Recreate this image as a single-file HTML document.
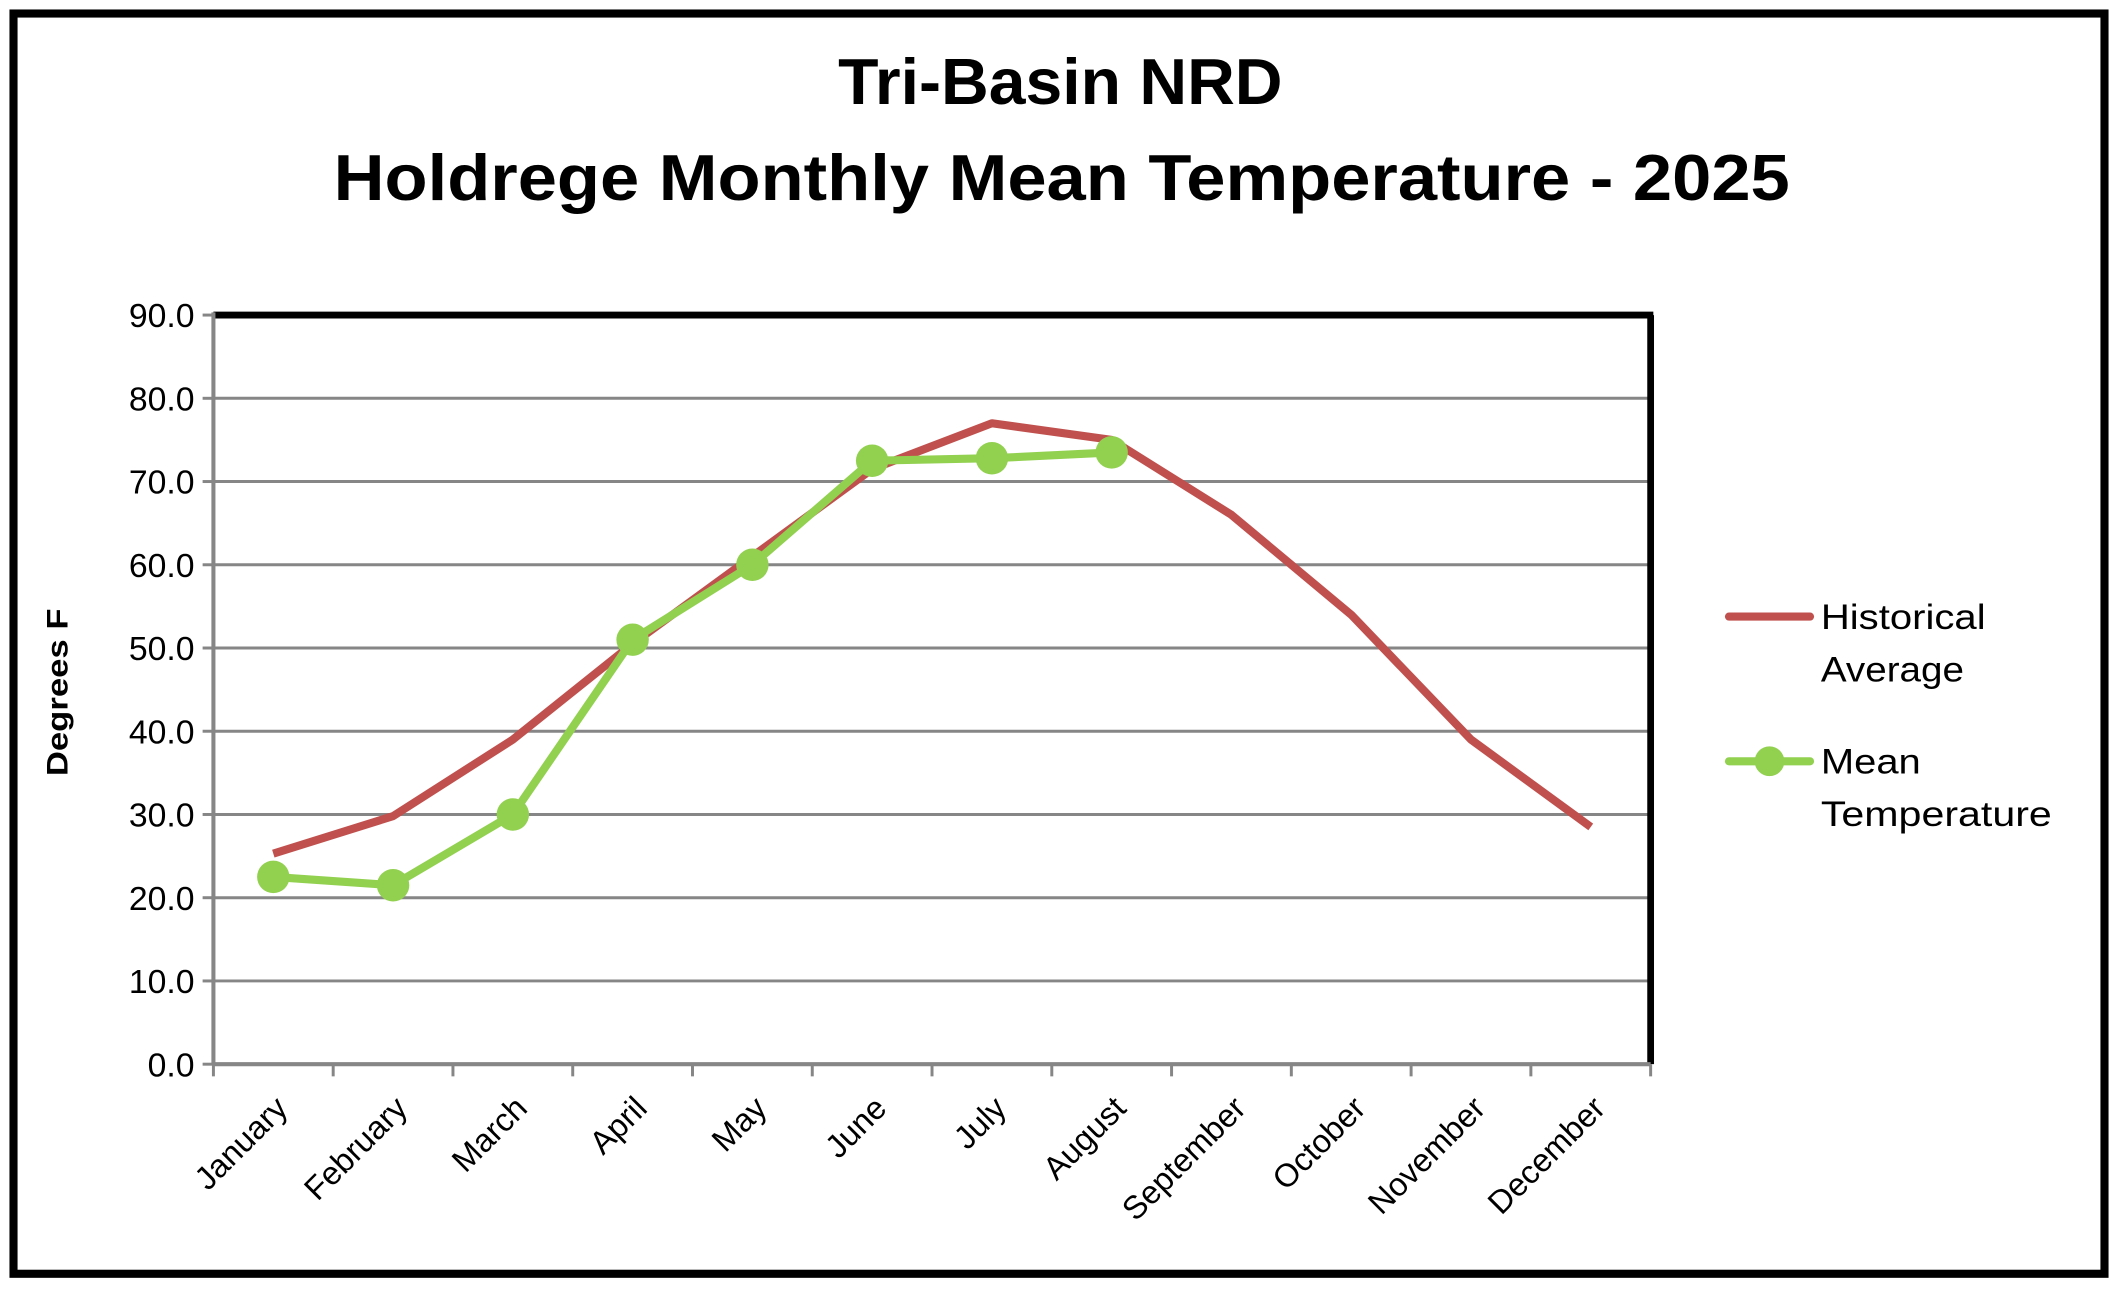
<!DOCTYPE html>
<html><head><meta charset="utf-8"><style>
html,body{margin:0;padding:0;background:#fff;}
svg{display:block;font-family:"Liberation Sans",sans-serif;}
</style></head><body>
<svg id="chart" width="2118" height="1290" viewBox="0 0 1568 954" preserveAspectRatio="none">
<rect x="10" y="10" width="1548" height="932" fill="#fff" stroke="#000" stroke-width="6"/>
<text x="785" y="77" font-size="48" font-weight="bold" text-anchor="middle" textLength="329" lengthAdjust="spacingAndGlyphs">Tri-Basin NRD</text>
<text x="786" y="148" font-size="48" font-weight="bold" text-anchor="middle" textLength="1078" lengthAdjust="spacingAndGlyphs">Holdrege Monthly Mean Temperature - 2025</text>
<text transform="translate(50,512) rotate(-90)" font-size="22" font-weight="bold" text-anchor="middle" textLength="124" lengthAdjust="spacingAndGlyphs">Degrees F</text>
<g id="grid"></g><g id="axes"></g><g id="series"></g>
<g>
<line x1="1280" y1="456" x2="1340" y2="456" stroke="#C0504D" stroke-width="6" stroke-linecap="round"/>
<text x="1348" y="465" font-size="26" textLength="122" lengthAdjust="spacingAndGlyphs">Historical</text>
<text x="1348" y="504" font-size="26" textLength="106" lengthAdjust="spacingAndGlyphs">Average</text>
<line x1="1280" y1="563" x2="1340" y2="563" stroke="#92D050" stroke-width="6" stroke-linecap="round"/>
<circle cx="1310" cy="563" r="11" fill="#92D050"/>
<text x="1348" y="572" font-size="26" textLength="74" lengthAdjust="spacingAndGlyphs">Mean</text>
<text x="1348" y="611" font-size="26" textLength="171" lengthAdjust="spacingAndGlyphs">Temperature</text>
</g>
</svg>
<script>
const months=["January","February","March","April","May","June","July","August","September","October","November","December"];
const historical=[25.3,29.8,39.0,50.5,61.0,71.5,77.0,75.0,66.0,54.0,39.0,28.5];
const meanTemp=[22.5,21.5,30.0,51.0,60.0,72.5,72.8,73.5];
const yTicks=[0,10,20,30,40,50,60,70,80,90];
const NS="http://www.w3.org/2000/svg";
const PL=158,PR=1222,PT=233,PB=787,yMax=90;
const cw=(PR-PL)/months.length;
const xs=i=>PL+cw*(i+0.5);
const ys=v=>PB-(v/yMax)*(PB-PT);
function mk(t,a,p){const e=document.createElementNS(NS,t);for(const k in a)e.setAttribute(k,a[k]);p.appendChild(e);return e;}
const gridG=document.getElementById('grid'),axesG=document.getElementById('axes'),serG=document.getElementById('series');
yTicks.forEach(v=>{
  if(v>0&&v<yMax){const g=mk('line',{x1:PL,x2:PR,y1:ys(v),y2:ys(v),stroke:'#868686','stroke-width':2.2},gridG);
  
  }
  const tk=mk('line',{x1:PL-8,x2:PL,y1:ys(v),y2:ys(v),stroke:'#868686','stroke-width':2.2},axesG);
  
  
  const t=mk('text',{x:PL-14,y:ys(v)+9,'font-size':25,'text-anchor':'end'},axesG);
  t.textContent=v.toFixed(1);
  
  
});
const topB=mk('line',{x1:PL,x2:PR+2,y1:PT,y2:PT,stroke:'#000','stroke-width':5},axesG);


const rightB=mk('line',{x1:PR,x2:PR,y1:PT,y2:PB,stroke:'#000','stroke-width':5},axesG);


const yAx=mk('line',{x1:PL,x2:PL,y1:PT-2,y2:PB,stroke:'#868686','stroke-width':3},axesG);


const xAx=mk('line',{x1:PL,x2:PR,y1:PB,y2:PB,stroke:'#868686','stroke-width':3},axesG);


for(let i=0;i<=months.length;i++){
  const x=PL+cw*i;
  const tk=mk('line',{x1:x,x2:x,y1:PB,y2:PB+9,stroke:'#868686','stroke-width':2.2},axesG);
  
  
}
months.forEach((m,i)=>{
  const x=xs(i)+12,y=PB+34;
  const t=mk('text',{x:x,y:y,'font-size':24,'text-anchor':'end',transform:`rotate(-45 ${x} ${y})`},axesG);
  t.textContent=m;
  
  
});
const hp=mk('polyline',{points:historical.map((v,i)=>xs(i)+','+ys(v)).join(' '),fill:'none',stroke:'#C0504D','stroke-width':6,'stroke-linejoin':'round'},serG);


const mp=mk('polyline',{points:meanTemp.map((v,i)=>xs(i)+','+ys(v)).join(' '),fill:'none',stroke:'#92D050','stroke-width':6,'stroke-linejoin':'round'},serG);


meanTemp.forEach((v,i)=>{
  const c=mk('circle',{cx:xs(i),cy:ys(v),r:12,fill:'#92D050'},serG);
  
  
});
</script>
</body></html>
